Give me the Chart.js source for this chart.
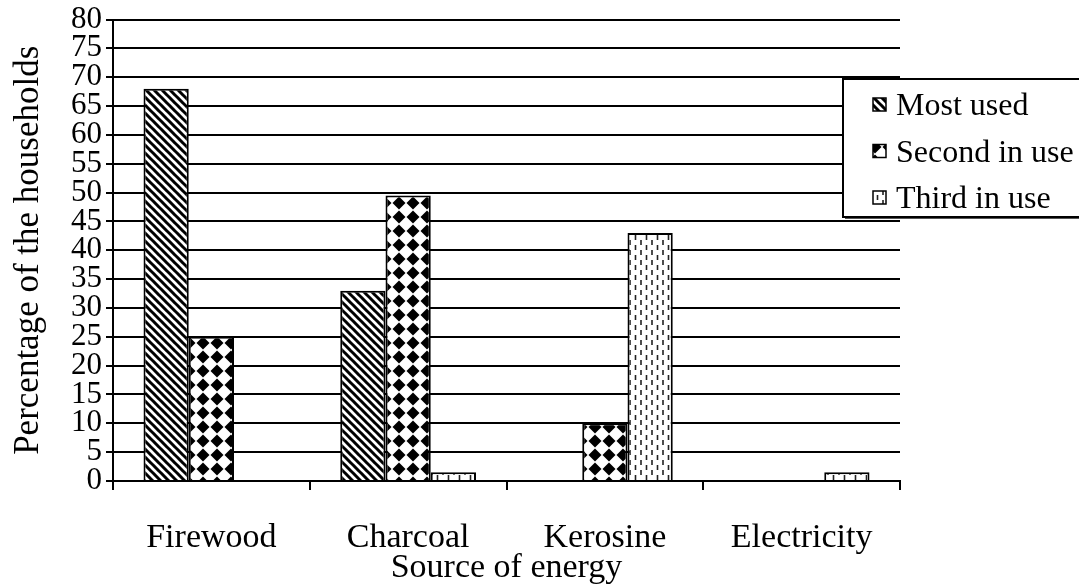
<!DOCTYPE html>
<html>
<head>
<meta charset="utf-8">
<script src="https://cdn.jsdelivr.net/npm/chart.js@4/dist/chart.umd.min.js"></script>
<style>
  body { margin: 0; background: #fff; }
  #wrap { width: 1079px; height: 584px; }
</style>
</head>
<body>
<div id="wrap"><canvas id="energy"></canvas></div>
<script>
// categories and series
const categories = ['Firewood', 'Charcoal', 'Kerosine', 'Electricity'];
const mostUsed = [68, 33, 0, 0];
const secondInUse = [25, 49.5, 10, 0];
const thirdInUse = [0, 1.5, 43, 1.5];
const seriesNames = ['Most used', 'Second in use', 'Third in use'];

const FONT = "'Liberation Serif', 'Times New Roman', serif";

// hatch pattern helpers
function makeTile(w, h, draw) {
    const c = document.createElement('canvas');
    c.width = w;
    c.height = h;
    const ctx = c.getContext('2d');
    ctx.fillStyle = '#fff';
    ctx.fillRect(0, 0, w, h);
    draw(ctx);
    return document.createElement('canvas').getContext('2d').createPattern(c, 'repeat');
}

// "\" diagonal stripes
const stripes = makeTile(8, 8, function(ctx) {
    ctx.strokeStyle = '#000';
    ctx.lineWidth = 3;
    ctx.beginPath();
    ctx.moveTo(-1, -1); ctx.lineTo(9, 9);
    ctx.moveTo(-9, -1); ctx.lineTo(1, 9);
    ctx.moveTo(7, -1); ctx.lineTo(17, 9);
    ctx.stroke();
});

// black diamonds
const diamonds = makeTile(14, 14, function(ctx) {
    ctx.fillStyle = '#000';
    ctx.beginPath();
    ctx.moveTo(7, 0.5);
    ctx.lineTo(13.5, 7);
    ctx.lineTo(7, 13.5);
    ctx.lineTo(0.5, 7);
    ctx.closePath();
    ctx.fill();
});

// short vertical dashes
const dashes = makeTile(11, 10, function(ctx) {
    ctx.strokeStyle = '#222';
    ctx.lineWidth = 1.6;
    ctx.beginPath();
    ctx.moveTo(3, 0); ctx.lineTo(3, 5);
    ctx.moveTo(8.5, 5); ctx.lineTo(8.5, 10);
    ctx.stroke();
});

const fills = [stripes, diamonds, dashes];

// legend box drawn over the plot, like the original
const boxLegend = {
    id: 'boxLegend',
    afterDraw(chart) {
        const ctx = chart.ctx;
        const x = 843, y = 79, w = 245, h = 138;
        ctx.save();
        ctx.fillStyle = '#555';
        ctx.fillRect(x + 2, y + 2, w, h);
        ctx.fillStyle = '#fff';
        ctx.fillRect(x, y, w, h);
        ctx.strokeStyle = '#000';
        ctx.lineWidth = 2;
        ctx.strokeRect(x, y, w, h);
        ctx.font = '32px ' + FONT;
        ctx.textBaseline = 'middle';
        chart.data.datasets.forEach(function(ds, i) {
            const cy = 105 + i * 46.5;
            ctx.fillStyle = ds.backgroundColor;
            ctx.fillRect(873, cy - 7, 13, 13);
            ctx.strokeStyle = '#000';
            ctx.lineWidth = 1.5;
            ctx.strokeRect(873, cy - 7, 13, 13);
            ctx.fillStyle = '#000';
            ctx.fillText(ds.label, 896, cy + 2);
        });
        ctx.restore();
    }
};

const seriesData = [mostUsed, secondInUse, thirdInUse];
const datasets = seriesData.map(function(vals, i) {
    return {
        label: seriesNames[i],
        data: vals,
        backgroundColor: fills[i],
        borderColor: '#000',
        borderWidth: 2,
        borderSkipped: 'bottom',
        categoryPercentage: 0.69,
        barPercentage: 1
    };
});

new Chart(document.getElementById('energy'), {
    type: 'bar',
    data: { labels: categories, datasets: datasets },
    options: {
        responsive: true,
        maintainAspectRatio: false,
        animation: false,
        layout: { padding: { top: 17, right: 179, left: 0, bottom: 0 } },
        plugins: {
            legend: { display: false },
            tooltip: { enabled: false }
        },
        scales: {
            x: {
                afterFit: function(scale) { scale.height = 103; },
                grid: {
                    offset: true,
                    drawOnChartArea: false,
                    color: '#000',
                    lineWidth: 2,
                    tickLength: 9
                },
                border: { color: '#000', width: 2 },
                ticks: {
                    color: '#000',
                    padding: 28,
                    font: { family: FONT, size: 34 }
                },
                title: {
                    display: true,
                    text: 'Source of energy',
                    color: '#000',
                    padding: { top: 0, bottom: -4 },
                    font: { family: FONT, size: 34 }
                }
            },
            y: {
                min: 0,
                max: 80,
                afterFit: function(scale) { scale.width = 113; },
                grid: {
                    color: '#000',
                    lineWidth: 2,
                    tickLength: 7
                },
                border: { color: '#000', width: 2 },
                ticks: {
                    stepSize: 5,
                    autoSkip: false,
                    color: '#000',
                    padding: 4,
                    font: { family: FONT, size: 31, lineHeight: 1 }
                },
                title: {
                    display: true,
                    text: 'Percentage of the households',
                    color: '#000',
                    padding: { top: 8, bottom: 0 },
                    font: { family: FONT, size: 35 }
                }
            }
        }
    },
    plugins: [boxLegend]
});
</script>
</body>
</html>
